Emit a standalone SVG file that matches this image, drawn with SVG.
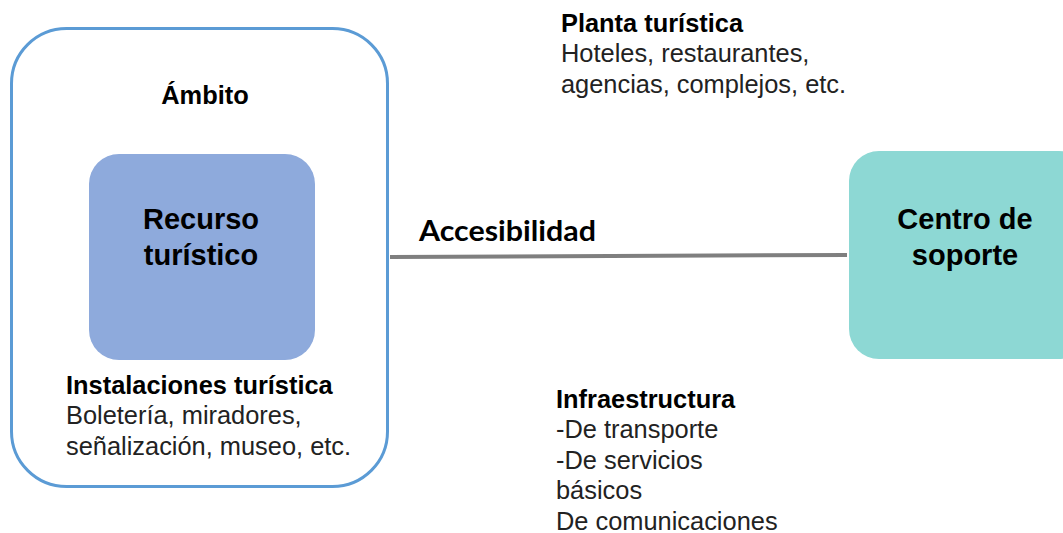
<svg xmlns="http://www.w3.org/2000/svg" width="1063" height="533" viewBox="0 0 1063 533">
<style>
.t{font-family:"Liberation Sans",Arial,sans-serif;font-size:25.4px;fill:#222}
.b{font-weight:bold;fill:#000}
.big{font-family:"Liberation Sans",Arial,sans-serif;font-size:29px;font-weight:bold;fill:#000;text-anchor:middle}
.acc{font-family:Lato,"Open Sans",sans-serif;font-size:28px;font-weight:bold;fill:#000}
</style>
<rect width="1063" height="533" fill="#fff"/>
<g id="ambito">
<rect x="11.5" y="28.5" width="376" height="458" rx="55" fill="#fff" stroke="#5b9bd5" stroke-width="3"/>
<text class="t b" x="205" y="104" text-anchor="middle">Ámbito</text>
</g>
<g id="recurso">
<rect x="89" y="154" width="226" height="206" rx="30" fill="#8eaadc"/>
<text class="big" x="201" y="229">Recurso</text>
<text class="big" x="201" y="265">turístico</text>
</g>
<g id="instalaciones">
<text class="t b" x="66" y="394">Instalaciones turística</text>
<text class="t" x="66" y="424">Boletería, miradores,</text>
<text class="t" x="66" y="455">señalización, museo, etc.</text>
</g>
<g id="planta">
<text class="t b" x="561" y="32">Planta turística</text>
<text class="t" x="561" y="62">Hoteles, restaurantes,</text>
<text class="t" x="561" y="93">agencias, complejos, etc.</text>
</g>
<g id="centro">
<rect x="849" y="151" width="240" height="208" rx="30" fill="#8dd8d4"/>
<text class="big" x="965" y="229">Centro de</text>
<text class="big" x="965" y="265">soporte</text>
</g>
<g id="infraestructura">
<text class="t b" x="556" y="408">Infraestructura</text>
<text class="t" x="556" y="438">-De transporte</text>
<text class="t" x="556" y="469">-De servicios</text>
<text class="t" x="556" y="499">básicos</text>
<text class="t" x="556" y="530">De comunicaciones</text>
</g>
<g id="connectors">
<line x1="390" y1="257" x2="847" y2="255" stroke="#7f7f7f" stroke-width="4"/>
<text class="acc" x="419" y="241" textLength="177" lengthAdjust="spacingAndGlyphs">Accesibilidad</text>
</g>
</svg>
